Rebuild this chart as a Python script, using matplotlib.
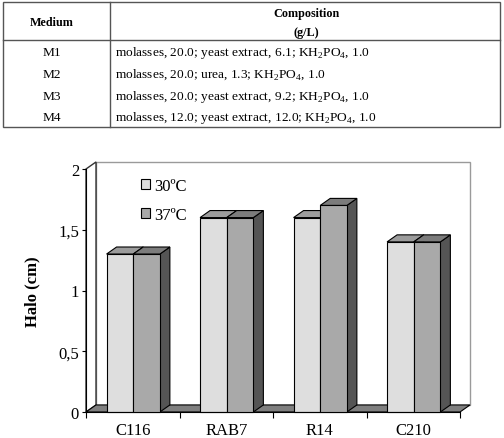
import matplotlib
matplotlib.use("Agg")
import matplotlib.pyplot as plt
from matplotlib.patches import Polygon, Rectangle

plt.rcParams['font.family'] = ['Liberation Serif', 'DejaVu Serif']
plt.rcParams['mathtext.fontset'] = 'custom'
plt.rcParams['mathtext.rm'] = 'Liberation Serif'

# table data
media = ["M1", "M2", "M3", "M4"]
compositions = [
    r"molasses, 20.0; yeast extract, 6.1; KH$_{\mathrm{2}}$PO$_{\mathrm{4}}$, 1.0",
    r"molasses, 20.0; urea, 1.3; KH$_{\mathrm{2}}$PO$_{\mathrm{4}}$, 1.0",
    r"molasses, 20.0; yeast extract, 9.2; KH$_{\mathrm{2}}$PO$_{\mathrm{4}}$, 1.0",
    r"molasses, 12.0; yeast extract, 12.0; KH$_{\mathrm{2}}$PO$_{\mathrm{4}}$, 1.0",
]

# chart data
strains = ["C116", "RAB7", "R14", "C210"]
halo_30 = [1.3, 1.6, 1.6, 1.4]
halo_37 = [1.3, 1.6, 1.7, 1.4]
series_names = ["30ºC", "37ºC"]
yticks = [0, 0.5, 1, 1.5, 2]
yticklabels = ["0", "0,5", "1", "1,5", "2"]

W, H = 504, 439
fig = plt.figure(figsize=(W / 100, H / 100), dpi=100)

# ---- table (layout axes in pixel units) ----
tab = fig.add_axes([0, 0, 1, 1])
tab.set_xlim(0, W)
tab.set_ylim(H, 0)
tab.axis("off")
lc = "#555555"
tab.add_patch(Rectangle((3, 3), 497, 125, fill=False, ec=lc, lw=1.0))
tab.plot([110, 110], [3, 128], color=lc, lw=1.0)
tab.plot([3, 500], [41, 41], color=lc, lw=1.0)
tab.text(52, 23, "Medium", ha="center", va="center", fontsize=8.7, fontweight="bold")
tab.text(306, 14, "Composition", ha="center", va="center", fontsize=8.7, fontweight="bold")
tab.text(306, 33, "(g/L)", ha="center", va="center", fontsize=8.7, fontweight="bold")
row_y = [53, 75, 97, 118]
for m, c, y in zip(media, compositions, row_y):
    tab.text(52, y, m, ha="center", va="center", fontsize=9.6)
    tab.text(115, y, c, ha="left", va="center", fontsize=9.6)

# ---- 3D-look bar chart ----
ax = fig.add_axes([86 / W, 1 - 413 / H, 374 / W, 243 / H])
ax.set_xlim(0, len(strains))
ax.set_ylim(0, 2)
dx, dy = 0.107, 0.058

# walls and floor
ax.add_patch(Polygon([(dx, dy), (4 + dx, dy), (4 + dx, 2 + dy), (dx, 2 + dy)],
                     closed=True, fc="white", ec="#9a9a9a", lw=1.0, clip_on=False, zorder=0))
ax.add_patch(Polygon([(0, 0), (dx, dy), (dx, 2 + dy), (0, 2)],
                     closed=True, fc="white", ec="#333333", lw=1.0, clip_on=False, zorder=0.5))
ax.add_patch(Polygon([(0, 0), (4, 0), (4 + dx, dy), (dx, dy)],
                     closed=True, fc="#7f7f7f", ec="black", lw=0.8, clip_on=False, zorder=1))

front_cols = ["#dedede", "#a9a9a9"]
top_cols = ["#9c9c9c", "#7c7c7c"]
side_col = "#555555"
w = 0.285
start = 0.22
for i in range(len(strains)):
    for j, vals in enumerate([halo_30, halo_37]):
        h = vals[i]
        x0 = i + start + j * w
        x1 = x0 + w
        z = 2 + j
        ax.add_patch(Polygon([(x1, 0), (x1 + dx, dy), (x1 + dx, h + dy), (x1, h)],
                             closed=True, fc=side_col, ec="black", lw=0.8, clip_on=False, zorder=z))
        ax.add_patch(Polygon([(x0, h), (x1, h), (x1 + dx, h + dy), (x0 + dx, h + dy)],
                             closed=True, fc=top_cols[j], ec="black", lw=0.8, clip_on=False, zorder=z))
        ax.add_patch(Rectangle((x0, 0), w, h, fc=front_cols[j], ec="black", lw=0.8,
                               clip_on=False, zorder=z))

for s in ["top", "right"]:
    ax.spines[s].set_visible(False)
ax.spines["left"].set_zorder(6)
ax.set_yticks(yticks)
ax.set_yticklabels(yticklabels, fontsize=12)
ax.set_xticks(range(len(strains) + 1))
ax.set_xticklabels([])
ax.set_xticks([i + 0.5 for i in range(len(strains))], minor=True)
ax.set_xticklabels(strains, minor=True, fontsize=12)
ax.tick_params(axis="x", which="major", direction="out", length=4)
ax.tick_params(axis="x", which="minor", length=0, pad=7)
ax.tick_params(axis="y", direction="out", length=3, pad=2)
ax.set_ylabel("Halo (cm)", fontsize=12, fontweight="bold")
ax.yaxis.set_label_coords(-46 / 374, 0.5)
ax.set_facecolor("none")

handles = [Rectangle((0, 0), 1, 1, fc=c, ec="black", lw=0.8) for c in front_cols]
ax.legend(handles, series_names, loc="upper left", bbox_to_anchor=(0.115, 1.01),
          frameon=False, fontsize=12, handlelength=0.55, handleheight=0.55,
          handletextpad=0.25, labelspacing=0.75, borderpad=0.2)

fig.savefig("out.png", dpi=100)
